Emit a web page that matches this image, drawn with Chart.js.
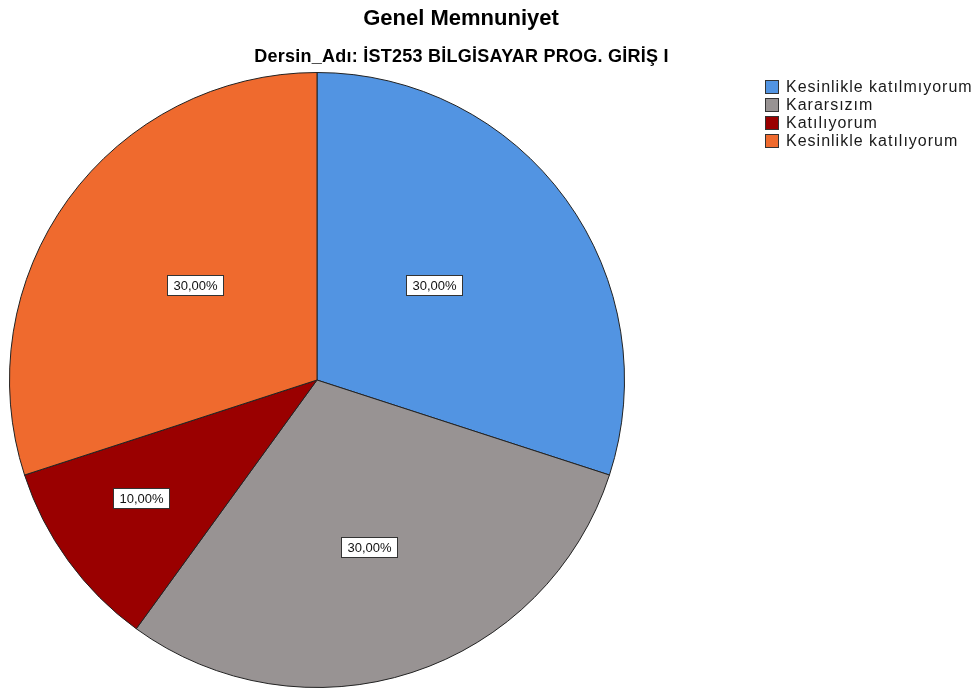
<!DOCTYPE html>
<html>
<head>
<meta charset="utf-8">
<script src="https://cdn.jsdelivr.net/npm/chart.js@4.4.0/dist/chart.umd.min.js"></script>
<style>
  html, body { margin: 0; padding: 0; background: #fff; }
  #wrap { position: relative; width: 980px; height: 691px; }
</style>
</head>
<body>
<div id="wrap"><canvas id="pie" width="980" height="691"></canvas></div>
<script>
// --- Données ---
const chartTitle = "Genel Memnuniyet";
const chartSubtitle = "Dersin_Adı: İST253 BİLGİSAYAR PROG. GİRİŞ I";
const categories = ["Kesinlikle katılmıyorum", "Kararsızım", "Katılıyorum", "Kesinlikle katılıyorum"];
const percents = [30, 30, 10, 30];
const sliceColors = ["#5294E2", "#989393", "#9A0000", "#EF6A2E"];

// placement des étiquettes : décalage d'angle (degrés) et distance (fraction du rayon)
const labelShift = [-3, 0.5, 2, 2];
const labelRadius = [0.49, 0.57, 0.69, 0.50];

function fmt(v) {
    return v.toFixed(2).replace(".", ",") + "%";
}

const FONT = "'Liberation Sans', Arial, sans-serif";

// titres + légende dessinés à la main (légende à droite, hors zone du camembert)
const decorPlugin = {
    id: "decor",
    afterDraw(chart) {
        const c = chart.ctx;
        c.save();
        c.fillStyle = "#000";
        c.textAlign = "center";
        c.textBaseline = "middle";
        c.font = "bold 22px " + FONT;
        c.fillText(chartTitle, 461, 19);
        c.font = "bold 18px " + FONT;
        c.letterSpacing = "0.25px";
        c.fillText(chartSubtitle, 461.5, 57);

        c.textAlign = "left";
        c.font = "16px " + FONT;
        c.letterSpacing = "1px";
        categories.forEach((cat, i) => {
            const y = 87 + i * 18;
            c.fillStyle = sliceColors[i];
            c.fillRect(765, y - 7, 14, 14);
            c.strokeStyle = "#333";
            c.lineWidth = 1;
            c.strokeRect(765.5, y - 6.5, 13, 13);
            c.fillStyle = "#1a1a1a";
            c.fillText(cat, 786, y + 1);
        });
        c.restore();
    },
    afterDatasetsDraw(chart) {
        const c = chart.ctx;
        const meta = chart.getDatasetMeta(0);
        c.save();
        c.font = "13px " + FONT;
        c.textAlign = "center";
        c.textBaseline = "middle";
        meta.data.forEach((arc, i) => {
            const mid = (arc.startAngle + arc.endAngle) / 2 + labelShift[i] * Math.PI / 180;
            const r = arc.outerRadius * labelRadius[i];
            const x = arc.x + Math.cos(mid) * r;
            const y = arc.y + Math.sin(mid) * r;
            const txt = fmt(percents[i]);
            const w = 57;
            const h = 21;
            const bx = Math.round(x - w / 2);
            const by = Math.round(y - h / 2);
            c.fillStyle = "#fff";
            c.fillRect(bx, by, w, h);
            c.strokeStyle = "#333";
            c.lineWidth = 1;
            c.strokeRect(bx + 0.5, by + 0.5, w - 1, h - 1);
            c.fillStyle = "#111";
            c.fillText(txt, bx + w / 2, by + h / 2 + 1);
        });
        c.restore();
    }
};

new Chart(document.getElementById("pie"), {
    type: "pie",
    data: {
        labels: categories,
        datasets: [{
            data: percents,
            backgroundColor: sliceColors,
            borderColor: "#222",
            borderWidth: 1
        }]
    },
    options: {
        responsive: false,
        animation: false,
        layout: { padding: { left: 9, top: 72, right: 355, bottom: 3 } },
        plugins: {
            legend: { display: false },
            tooltip: { enabled: false },
            title: { display: false }
        }
    },
    plugins: [decorPlugin]
});
</script>
</body>
</html>
